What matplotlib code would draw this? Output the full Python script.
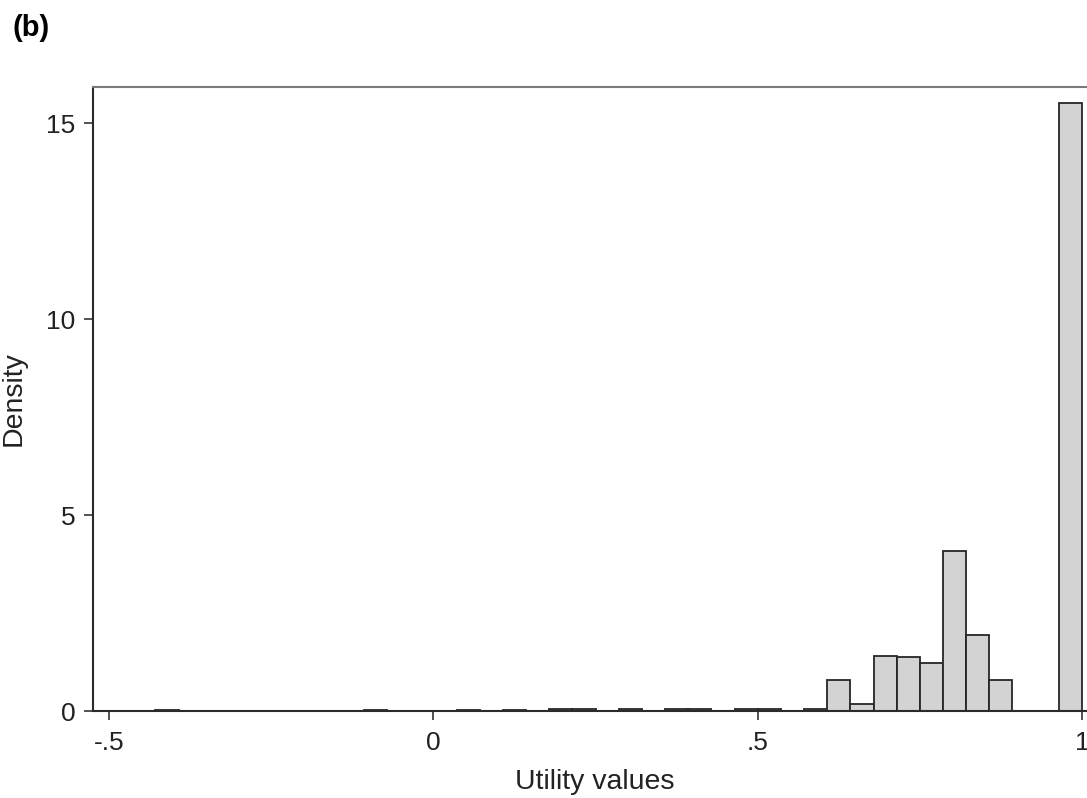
import matplotlib
matplotlib.use('Agg')
import matplotlib.pyplot as plt
import numpy as np

# histogram bins (Stata style, width 1/28, from -.4286 to 1)
bin_start = -0.4286
bin_width = 1 / 28
# density per bin (0 = empty bin)
density = [0.03, 0, 0, 0, 0, 0, 0, 0, 0, 0.03,
           0, 0, 0, 0.03, 0, 0.03, 0, 0.04, 0.04, 0,
           0.04, 0, 0.04, 0.04, 0, 0.04, 0.04, 0, 0.04, 0.78,
           0.17, 1.41, 1.38, 1.23, 4.08, 1.93, 0.78, 0, 0, 15.5]

x_ticks = [-0.5, 0, 0.5, 1]
x_ticklabels = ['-.5', '0', '.5', '1']
y_ticks = [0, 5, 10, 15]

plt.rcParams['font.family'] = ['Liberation Sans', 'DejaVu Sans']

fig = plt.figure(figsize=(10.87, 7.98), dpi=100)
ax = fig.add_axes([0.0856, 0.109, 1 - 0.0856, 0.782])

lefts = [bin_start + i * bin_width for i in range(len(density))]
xs = [l for l, d in zip(lefts, density) if d > 0]
hs = [d for d in density if d > 0]
ax.bar(xs, hs, width=bin_width, align='edge', color='#d3d3d3',
       edgecolor='#262626', linewidth=1.3, zorder=2)

ax.set_xlim(-0.5247, 1.0077)
ax.set_ylim(0, 15.92)
ax.set_xticks(x_ticks)
ax.set_xticklabels(x_ticklabels)
ax.set_yticks(y_ticks)

ax.tick_params(axis='both', direction='out', length=6.5, width=1.2,
               color='#333333', labelsize=19, labelcolor='#222222')
ax.tick_params(axis='x', pad=8)
ax.tick_params(axis='y', pad=6)

for s in ['left', 'bottom']:
    ax.spines[s].set_color('#2a2a2a')
    ax.spines[s].set_linewidth(1.5)
ax.spines['right'].set_visible(False)
ax.spines['top'].set_color('#7a7a7a')
ax.spines['top'].set_linewidth(1.5)

ax.set_xlabel('Utility values', fontsize=20.5, color='#222222', va='center')
ax.xaxis.set_label_coords(0.505, -0.114)
ax.set_ylabel('Density', fontsize=20.5, color='#222222', va='center')
ax.yaxis.set_label_coords(-0.080, 0.5)

fig.text(12 / 1087, 1 - 28 / 798, '(b)', fontsize=21, fontweight='bold',
         ha='left', va='center')

fig.savefig('out.png', dpi=100)
